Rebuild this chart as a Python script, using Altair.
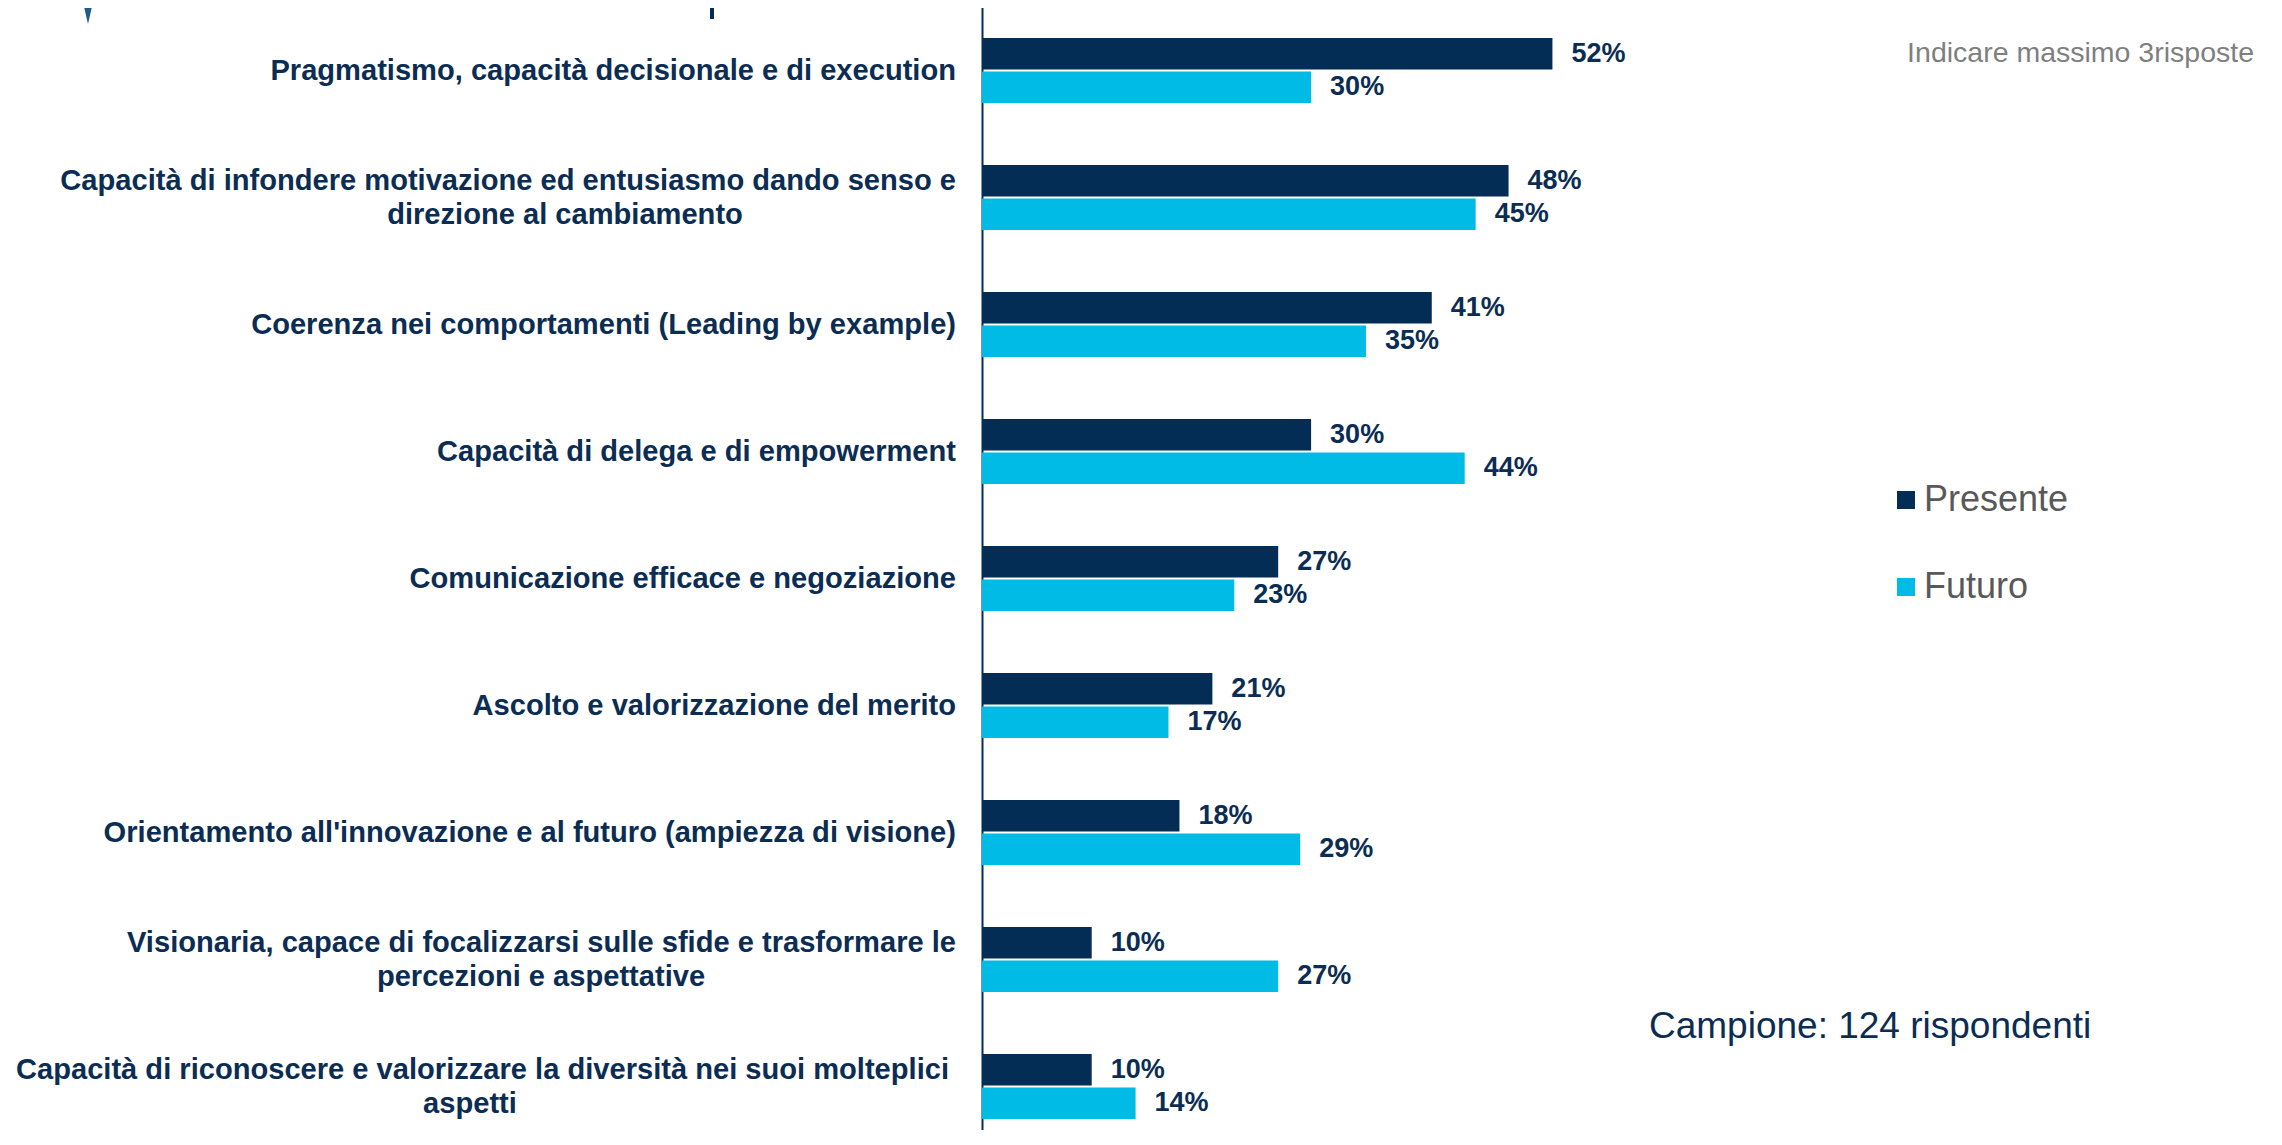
import altair as alt
import pandas as pd

# ---------------- data ----------------
categories = [
    "Pragmatismo, capacità decisionale e di execution",
    "Capacità di infondere motivazione ed entusiasmo dando senso e direzione al cambiamento",
    "Coerenza nei comportamenti (Leading by example)",
    "Capacità di delega e di empowerment",
    "Comunicazione efficace e negoziazione",
    "Ascolto e valorizzazione del merito",
    "Orientamento all'innovazione e al futuro (ampiezza di visione)",
    "Visionaria, capace di focalizzarsi sulle sfide e trasformare le percezioni e aspettative",
    "Capacità di riconoscere e valorizzare la diversità nei suoi molteplici aspetti",
]
label_line1 = [
    "Pragmatismo, capacità decisionale e di execution",
    "Capacità di infondere motivazione ed entusiasmo dando senso e",
    "Coerenza nei comportamenti (Leading by example)",
    "Capacità di delega e di empowerment",
    "Comunicazione efficace e negoziazione",
    "Ascolto e valorizzazione del merito",
    "Orientamento all'innovazione e al futuro (ampiezza di visione)",
    "Visionaria, capace di focalizzarsi sulle sfide e trasformare le",
    "Capacità di riconoscere e valorizzare la diversità nei suoi molteplici",
]
label_line2 = [
    "",
    "direzione al cambiamento",
    "",
    "",
    "",
    "",
    "",
    "percezioni e aspettative",
    "aspetti",
]
series = ["Presente", "Futuro"]
presente = [52, 48, 41, 30, 27, 21, 18, 10, 10]
futuro = [30, 45, 35, 44, 23, 17, 29, 27, 14]

note_text = "Indicare massimo 3risposte"
sample_text = "Campione: 124 rispondenti"

# ---------------- styles / layout ----------------
NAVY = "#032D55"
CYAN = "#00BBE5"
TEXT_NAVY = "#0B2D53"
FONT = "Liberation Sans"

W = 1290            # plot width (px)
H = 1122            # plot height (px)
PX_PER_PCT = 10.97
LABEL_RIGHT = -26
LINE_DY = 17
LABEL_SIZE = 29.1
# centre (relative to axis) of the second line of two-line labels
line2_center = {1: -417, 7: -441, 8: -512}
line1_right = {8: -33}

rows = []
for c, p, f in zip(categories, presente, futuro):
    rows.append({"cat": c, "serie": "Presente", "val": p, "lab": f"{p}%"})
    rows.append({"cat": c, "serie": "Futuro", "val": f, "lab": f"{f}%"})
df = pd.DataFrame(rows)

y_enc = alt.Y(
    "cat:N",
    sort=categories,
    scale=alt.Scale(domain=categories, range=[-1, 1142], paddingInner=0, paddingOuter=0),
    axis=alt.Axis(labels=False, ticks=False, title=None, grid=False,
                  domainColor=NAVY, domainWidth=2),
)
yoff_enc = alt.YOffset(
    "serie:N", sort=series,
    scale=alt.Scale(domain=series, paddingInner=0.06, paddingOuter=0.925),
)
x_enc = alt.X("val:Q", scale=alt.Scale(domain=[0, W / PX_PER_PCT]), axis=None)

base = alt.Chart(df)

bars = base.mark_bar().encode(
    x=x_enc,
    y=y_enc,
    yOffset=yoff_enc,
    color=alt.Color(
        "serie:N",
        scale=alt.Scale(domain=series, range=[NAVY, CYAN]),
        legend=alt.Legend(
            orient="none", legendX=906, legendY=474, direction="vertical",
            title=None, symbolType="square", symbolSize=324, symbolStrokeWidth=0,
            labelFontSize=36, labelFont=FONT, labelColor="#595959",
            rowPadding=51, labelOffset=0,
        ),
    ),
)

values = base.mark_text(
    align="left", baseline="middle", dx=19, font=FONT, fontSize=27,
    fontWeight="bold", color=TEXT_NAVY,
).encode(x=x_enc, y=alt.Y("cat:N", sort=categories),
         yOffset=alt.YOffset("serie:N", sort=series), text="lab:N")

layers = [bars, values]

# category labels
lab_df = pd.DataFrame({"cat": categories, "l1": label_line1, "l2": label_line2})
for i, (c, l1, l2) in enumerate(zip(categories, label_line1, label_line2)):
    one = lab_df[lab_df["cat"] == c]
    dy = -LINE_DY if l2 else 0
    layers.append(
        alt.Chart(one).mark_text(
            align="right", baseline="middle", dy=dy, font=FONT, fontSize=LABEL_SIZE,
            fontWeight="bold", color=TEXT_NAVY,
        ).encode(y=alt.Y("cat:N", sort=categories),
                 x=alt.value(line1_right.get(i, LABEL_RIGHT)), text="l1:N")
    )
    if l2:
        layers.append(
            alt.Chart(one).mark_text(
                align="center", baseline="middle", dy=LINE_DY, font=FONT, fontSize=LABEL_SIZE,
                fontWeight="bold", color=TEXT_NAVY,
            ).encode(y=alt.Y("cat:N", sort=categories),
                     x=alt.value(line2_center[i]), text="l2:N")
        )

note = alt.Chart(pd.DataFrame({"t": [note_text]})).mark_text(
    align="right", baseline="middle", font=FONT, fontSize=28.5, color="#7F7F7F",
).encode(x=alt.value(1272), y=alt.value(45), text="t:N")

sample = alt.Chart(pd.DataFrame({"t": [sample_text]})).mark_text(
    align="left", baseline="middle", font=FONT, fontSize=37, color=TEXT_NAVY,
).encode(x=alt.value(667), y=alt.value(1019), text="t:N")

# fragments of the cropped slide title at the top edge
deco = pd.DataFrame({"k": ["deco"]})
title_bullet = alt.Chart(deco).mark_point(
    shape="M-0.46,-1L0.46,-1L0,1Z", filled=True, size=2304, opacity=1,
    color="#215A89", strokeWidth=0,
).encode(x=alt.value(-894), y=alt.value(-8))
title_stroke = alt.Chart(deco).mark_rule(color=NAVY, strokeWidth=4).encode(
    x=alt.value(-270), y=alt.value(-5), y2=alt.value(11))

layers += [note, sample, title_bullet, title_stroke]

chart = alt.layer(*layers).properties(
    width=W, height=H,
    autosize=alt.AutoSizeParams(type="none"),
    padding={"left": 974, "top": 0, "right": 0, "bottom": 0},
).configure_view(stroke=None)

chart.save("out.html", embed_options={"renderer": "svg", "actions": False})
